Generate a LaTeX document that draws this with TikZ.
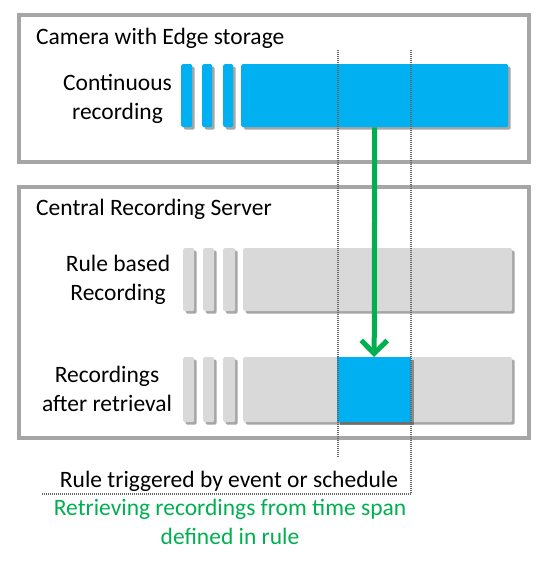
\documentclass[tikz,border=0pt]{standalone}
\usepackage{fontspec}
\setmainfont{Carlito}
\usepackage{tikz}
\usetikzlibrary{arrows.meta}
\usetikzlibrary{shadows}
\definecolor{edgeblue}{HTML}{00B0F0}
\definecolor{slicegray}{HTML}{D9D9D9}
\definecolor{framegray}{HTML}{A6A6A6}
\definecolor{spangreen}{HTML}{00B050}
\begin{document}
\begin{tikzpicture}[x=1pt,y=-1pt,
    font=\fontsize{23.5}{28.5}\selectfont,
    frame/.style={draw=framegray,line width=3.5pt},
    slice/.style={inner sep=0pt,anchor=north west,rounded corners=1.5pt,
      drop shadow={shadow xshift=2.5pt,shadow yshift=-2.5pt,opacity=0.35,fill=black}},
    camslice/.style={slice,fill=edgeblue},
    srvslice/.style={slice,fill=slicegray},
    rowlabel/.style={align=center,inner sep=0pt},
    span/.style={draw=gray!80!black,dash pattern=on 1pt off 1pt,line width=1.2pt}]
    \useasboundingbox (0,0) rectangle (543,561);
    \draw[frame] (19,15) rectangle (529,162);
    \draw[frame] (19,187) rectangle (529,438);
    \node[anchor=base west,inner sep=0pt] (camtitle) at (36,45) {Camera with Edge storage};
    \node[anchor=base west,inner sep=0pt] (srvtitle) at (36,215) {Central Recording Server};
    \node[rowlabel] (contlabel) at (117.5,99) {Continuous\\recording};
    \node[rowlabel] (rulelabel) at (118,280) {Rule based\\Recording};
    \node[rowlabel] (retlabel) at (107,389) {Recordings\\after retrieval};
    % camera recording
    \foreach \n/\x/\w in {1/181/11,2/202/10,3/223/10} {
      \node[camslice,minimum width=\w pt,minimum height=63pt] (cam\n) at (\x,64) {};
    }
    \node[camslice,minimum width=267pt,minimum height=63pt] (camfull) at (241,64) {};
    % server recordings
    \foreach \n/\x/\w in {1/183/11,2/203/11,3/223/12} {
      \node[srvslice,minimum width=\w pt,minimum height=63pt] (rule\n) at (\x,248) {};
      \node[srvslice,minimum width=\w pt,minimum height=65pt] (ret\n) at (\x,357) {};
    }
    \node[srvslice,minimum width=269pt,minimum height=63pt] (rulefull) at (243,248) {};
    \node[srvslice,minimum width=269pt,minimum height=65pt] (retfull) at (243,357) {};
    \node[slice,rounded corners=0pt,fill=edgeblue,minimum width=74pt,minimum height=65pt] (retrieved) at (337,357) {};
    % time span
    \coordinate (spanL) at (338,50);
    \coordinate (spanR) at (411,50);
    \coordinate (spanend) at (42,494);
    \draw[span] (spanL) -- (338,458);
    \draw[span] (spanR) -- (411,494) -- (spanend);
    \draw[spangreen,line width=5pt,-{Straight Barb[length=13pt,width=26pt]}] (camfull.south) -- (retrieved.north);
    \node[anchor=base,inner sep=0pt] (trigger) at (229,487) {Rule triggered by event or schedule};
    \node[rowlabel,text=spangreen] (retrieve) at (230,522) {Retrieving recordings from time span\\defined in rule};
\end{tikzpicture}
\end{document}
